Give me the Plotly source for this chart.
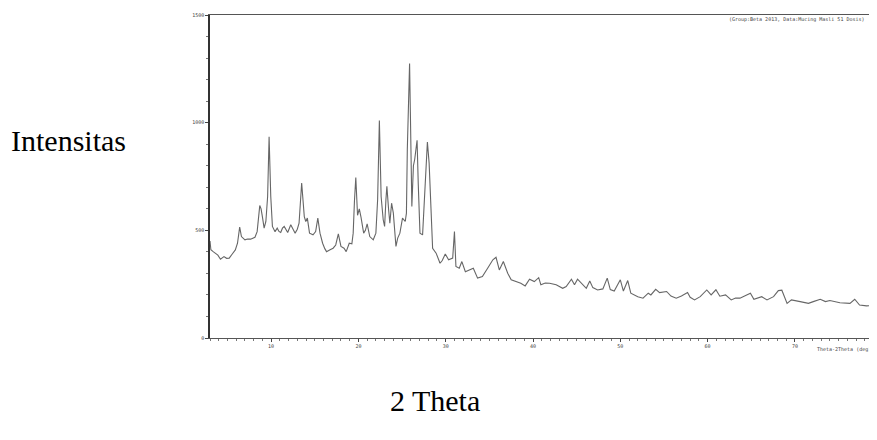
import plotly.graph_objects as go

two_theta = [3.0, 3.1, 3.4, 3.65, 3.9, 4.2, 4.4, 4.6, 4.9, 5.2, 5.55, 5.9, 6.15, 6.4, 6.6, 7.0, 7.3, 7.65,
             8.15, 8.4, 8.7, 8.85, 9.0, 9.2, 9.4, 9.6, 9.77, 9.96, 10.15, 10.45, 10.7, 10.9, 11.1, 11.3,
             11.5, 11.7, 11.9, 12.25, 12.5, 12.75, 13.0, 13.2, 13.5, 13.8, 13.97, 14.15, 14.4, 14.8, 15.1,
             15.35, 15.6, 15.9, 16.15, 16.35, 16.7, 17.1, 17.4, 17.7, 18.0, 18.35, 18.6, 18.95, 19.25,
             19.4, 19.55, 19.7, 19.9, 20.1, 20.3, 20.6, 20.8, 21.0, 21.3, 21.7, 22.0, 22.2, 22.4, 22.6,
             22.84, 23.0, 23.15, 23.26, 23.45, 23.6, 23.8, 24.0, 24.3, 24.5, 24.75, 25.05, 25.36, 25.5,
             25.6, 25.75, 25.86, 25.95, 26.05, 26.12, 26.3, 26.45, 26.6, 26.72, 26.85, 27.05, 27.35,
             27.65, 27.9, 28.1, 28.3, 28.5, 28.9, 29.35, 29.6, 29.95, 30.33, 30.8, 31.0, 31.17, 31.55,
             31.85, 32.25, 32.7, 33.16, 33.65, 34.2, 34.8, 35.4, 35.76, 36.14, 36.6, 37.1, 37.5, 38.05,
             38.6, 39.1, 39.6, 40.15, 40.65, 40.9, 41.4, 41.9, 42.65, 43.4, 43.8, 44.4, 44.75, 45.1,
             45.7, 46.1, 46.5, 46.85, 47.4, 48.0, 48.5, 48.85, 49.3, 50.0, 50.35, 50.85, 51.2, 51.6,
             52.0, 52.6, 53.2, 53.5, 54.05, 54.5, 55.3, 55.8, 56.4, 57.0, 57.7, 58.0, 58.5, 59.15,
             59.9, 60.4, 60.95, 61.4, 62.05, 62.7, 63.2, 63.7, 64.3, 64.9, 65.3, 66.2, 66.8, 67.55,
             68.1, 68.5, 69.1, 69.6, 70.6, 71.55, 72.1, 72.9, 73.5, 74.0, 75.15, 76.3, 76.85, 77.4,
             78.2, 79.1, 79.4]

intensity = [450, 410, 400, 394, 385, 366, 372, 378, 370, 371, 390, 409, 440, 515, 471, 456, 460, 459,
             468, 494, 615, 600, 564, 510, 541, 657, 935, 657, 518, 494, 510, 495, 490, 510,
             518, 500, 490, 526, 505, 487, 505, 533, 720, 564, 541, 557, 487, 479, 494,
             557, 487, 440, 415, 401, 409, 417, 432, 484, 425, 417, 401, 440, 437,
             487, 640, 745, 570, 600, 560, 487, 500, 530, 471, 456, 487, 642, 1010, 657,
             549, 518, 642, 704, 600, 533, 626, 580, 425, 464, 487, 557, 541, 580,
             874, 1150, 1275, 1050, 800, 611, 800, 830, 880, 918, 720, 487, 479,
             688, 910, 812, 595, 417, 394, 347, 360, 390, 363, 371, 494, 332, 324,
             355, 308, 316, 324, 278, 285, 324, 363, 375, 316, 355, 301, 270, 262,
             254, 242, 273, 262, 280, 247, 255, 254, 247, 231, 239, 273, 247, 273,
             247, 231, 265, 234, 223, 228, 278, 225, 218, 270, 218, 267, 208, 200,
             192, 185, 208, 200, 226, 211, 216, 195, 185, 195, 211, 189, 177, 192,
             223, 200, 224, 194, 200, 177, 186, 185, 195, 208, 180, 192, 177, 192,
             220, 222, 161, 177, 169, 161, 169, 180, 169, 174, 164, 161, 180, 153,
             149, 153, 152]

x_ticks = [10, 20, 30, 40, 50, 60, 70]
y_ticks = [0, 500, 1000, 1500]

tick_font = dict(family="DejaVu Sans Mono", size=5, color="#444")

fig = go.Figure()
fig.add_trace(go.Scatter(x=two_theta, y=intensity, mode="lines",
                         line=dict(color="#666666", width=1.1), showlegend=False))

# page body has an 8px default margin: figure is sized/offset to compensate
fig.update_layout(
    width=869, height=416,
    margin=dict(l=202, r=0, t=7, b=86),
    paper_bgcolor="white", plot_bgcolor="white",
    xaxis=dict(range=[3, 79.4], tickvals=x_ticks, ticktext=[str(v) for v in x_ticks],
               showgrid=False, zeroline=False, showline=True, linecolor="#555", linewidth=1,
               mirror=True, ticks="outside", ticklen=3, tickcolor="#444", tickfont=tick_font,
               minor=dict(dtick=1, ticks="outside", ticklen=2, tickcolor="#777")),
    yaxis=dict(range=[0, 1500], tickvals=y_ticks, ticktext=[str(v) for v in y_ticks],
               showgrid=False, zeroline=False, showline=True, linecolor="#333", linewidth=1.5,
               ticks="outside", ticklen=3, tickcolor="#444", tickfont=tick_font,
               minor=dict(dtick=100, ticks="outside", ticklen=2, tickcolor="#777")),
    annotations=[
        dict(text="Intensitas", xref="paper", yref="paper", x=(68 - 210) / 667, y=(338 - 140) / 323,
             xanchor="center", yanchor="middle",
             showarrow=False, font=dict(family="Liberation Serif", size=30, color="black")),
        dict(text="2 Theta", xref="paper", yref="paper", x=(435 - 210) / 667, y=(338 - 400) / 323,
             xanchor="center", yanchor="middle",
             showarrow=False, font=dict(family="Liberation Serif", size=30, color="black")),
        dict(text="Theta-2Theta (deg)", xref="paper", yref="paper", x=(815 - 210) / 667, y=-11 / 323,
             xanchor="left", yanchor="middle", showarrow=False,
             font=dict(family="DejaVu Sans Mono", size=5, color="#444")),
        dict(text="(Group:Beta 2013, Data:Mucing Masli 51 Dosis)", xref="paper", yref="paper",
             x=(727 - 210) / 667, y=1 - 5 / 323, xanchor="left", yanchor="middle",
             showarrow=False, font=dict(family="DejaVu Sans Mono", size=5, color="#444")),
    ],
)

fig.write_html("out.html")
